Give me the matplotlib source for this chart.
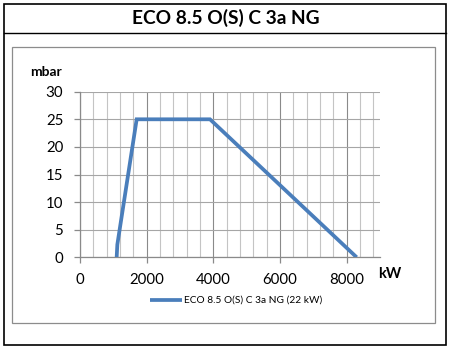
import matplotlib
matplotlib.use("Agg")
import matplotlib.pyplot as plt
from matplotlib.patches import Rectangle
from matplotlib.lines import Line2D
from matplotlib.ticker import MultipleLocator

TITLE = "ECO 8.5 O(S) C 3a NG"
SERIES_LABEL = "ECO 8.5 O(S) C 3a NG (22 kW)"

# burner working field: output (kW) vs. combustion chamber pressure (mbar)
power_kw = [1100, 1120, 1700, 3900, 8300]
pressure_mbar = [0, 2.3, 25, 25, 0]

X_MAX = 9000
Y_MAX = 30

LINE_COLOR = "#4a7ebb"
FONT = ["Lato", "DejaVu Sans"]

plt.rcParams["font.family"] = FONT

fig = plt.figure(figsize=(4.5, 3.5), dpi=100)
W, H = 450, 350


def fx(px):
    return px / W


def fy(py):
    return 1 - py / H


# outer frame, title band and inner chart frame
fig.patches.append(Rectangle((fx(4), fy(345)), fx(442), (341) / H, transform=fig.transFigure,
                             fill=False, edgecolor="black", linewidth=1.2))
fig.lines.append(Line2D([fx(4), fx(446)], [fy(33), fy(33)], transform=fig.transFigure,
                        color="black", linewidth=1.0))
fig.patches.append(Rectangle((fx(12), fy(323)), fx(423), (276) / H, transform=fig.transFigure,
                             fill=False, edgecolor="#8c8c8c", linewidth=0.9))

fig.text(fx(226), fy(18), TITLE, ha="center", va="center", fontsize=13.8, fontweight="bold")

ax = fig.add_axes([fx(80), fy(257.3), fx(300), (257.3 - 91.7) / H])
ax.plot(power_kw, pressure_mbar, color=LINE_COLOR, linewidth=2.7, solid_capstyle="butt",
        solid_joinstyle="miter", zorder=3)

ax.set_xlim(0, X_MAX)
ax.set_ylim(0, Y_MAX)
ax.xaxis.set_major_locator(MultipleLocator(2000))
ax.xaxis.set_minor_locator(MultipleLocator(400))
ax.yaxis.set_major_locator(MultipleLocator(5))

ax.grid(which="major", axis="x", color="#8a8a8a", linewidth=0.8)
ax.grid(which="minor", axis="x", color="#c4c4c4", linewidth=0.8)
ax.grid(which="major", axis="y", color="#a6a6a6", linewidth=0.8)

for side in ["top", "right"]:
    ax.spines[side].set_visible(False)
for side in ["left", "bottom"]:
    ax.spines[side].set_color("#8a8a8a")
    ax.spines[side].set_linewidth(0.9)

ax.tick_params(axis="both", which="major", labelsize=10.8, color="#8a8a8a", length=4, width=0.9)
ax.tick_params(axis="x", which="major", pad=7)
ax.tick_params(axis="y", which="major", pad=8)
ax.tick_params(axis="x", which="minor", length=0)
ax.set_axisbelow(True)

fig.text(fx(46), fy(72), "mbar", ha="center", va="center", fontsize=10, fontweight="bold")
fig.text(fx(390), fy(274), "kW", ha="center", va="center", fontsize=10.5, fontweight="bold")

# legend entry below the plot
fig.lines.append(Line2D([fx(150), fx(182)], [fy(300), fy(300)], transform=fig.transFigure,
                        color=LINE_COLOR, linewidth=2.7, solid_capstyle="butt"))
fig.text(fx(184), fy(300), SERIES_LABEL, ha="left", va="center", fontsize=7.3)

fig.savefig("out.png", dpi=100)
